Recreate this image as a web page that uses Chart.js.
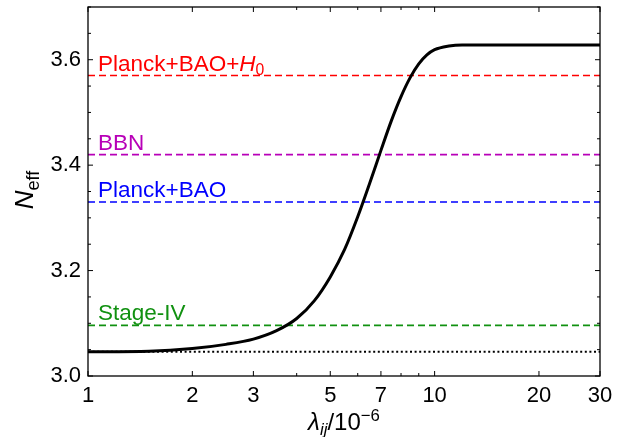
<!DOCTYPE html>
<html>
<head>
<meta charset="utf-8">
<script src="https://cdn.jsdelivr.net/npm/chart.js@4"></script>
<style>
  html, body { margin: 0; padding: 0; background: #fff; }
  #chart { display: block; }
</style>
</head>
<body>
<canvas id="chart" width="626" height="437"></canvas>
<script>
// curve N_eff(lambda)
const lambdaVals = [1, 1.5, 2, 2.5, 3, 3.5, 4, 4.5, 5, 5.5, 6, 6.5, 7, 7.5, 8, 8.5, 9, 9.5, 10, 11, 12, 15, 20, 30];
const neffVals = [3.046, 3.047, 3.052, 3.060, 3.070, 3.086, 3.109, 3.143, 3.188, 3.240, 3.302, 3.366, 3.428, 3.484, 3.530, 3.566, 3.592, 3.609, 3.619, 3.626, 3.628, 3.628, 3.628, 3.628];

// horizontal reference lines
const refNames = ["Planck+BAO+H0", "BBN", "Planck+BAO", "Stage-IV"];
const refValues = [3.57, 3.42, 3.33, 3.096];
const refColors = ["#ff0000", "#b800b8", "#0000ff", "#119111"];
const standardNeff = 3.046;

// axes
const xRange = [1, 30];
const yRange = [3.0, 3.7];
const xTickVals = [1, 2, 3, 4, 5, 6, 7, 8, 9, 10, 20, 30];
const xTickLabels = [1, 2, 3, 5, 7, 10, 20, 30];
const yTickVals = [3.0, 3.05, 3.1, 3.15, 3.2, 3.25, 3.3, 3.35, 3.4, 3.45, 3.5, 3.55, 3.6, 3.65, 3.7];
const yTickLabels = [3.0, 3.2, 3.4, 3.6];

const FONT = "'Liberation Sans', Arial, Helvetica, sans-serif";

// rich text: array of [text, style] with style '', 'i', 'sub', 'isub', 'sup'
function drawRich(ctx, parts, x, y, size) {
  let cx = x;
  for (const [t, st] of parts) {
    const italic = st && st.indexOf("i") === 0;
    const small = st && (st.indexOf("sub") >= 0 || st === "sup");
    const fs = small ? size * 0.7 : size;
    ctx.font = (italic ? "italic " : "") + fs + "px " + FONT;
    let dy = 0;
    if (st && st.indexOf("sub") >= 0) dy = size * 0.22;
    if (st === "sup") dy = -size * 0.38;
    ctx.fillText(t, cx, y + dy);
    cx += ctx.measureText(t).width;
  }
  return cx - x;
}
function richWidth(ctx, parts, size) {
  let w = 0;
  for (const [t, st] of parts) {
    const italic = st && st.indexOf("i") === 0;
    const small = st && (st.indexOf("sub") >= 0 || st === "sup");
    ctx.font = (italic ? "italic " : "") + (small ? size * 0.7 : size) + "px " + FONT;
    w += ctx.measureText(t).width;
  }
  return w;
}
function labelParts(name) {
  if (name.endsWith("H0")) return [[name.slice(0, -2), ""], ["H", "i"], ["0", "sub"]];
  return [[name, ""]];
}

const decorPlugin = {
  id: "decor",
  afterDatasetsDraw(chart) {
    const ctx = chart.ctx;
    const a = chart.chartArea;
    const xs = chart.scales.x, ys = chart.scales.y;
    ctx.save();
    // reference labels
    ctx.textBaseline = "alphabetic";
    ctx.textAlign = "left";
    refNames.forEach((n, i) => {
      ctx.fillStyle = refColors[i];
      drawRich(ctx, labelParts(n), a.left + 10, ys.getPixelForValue(refValues[i]) - 5, 22.5);
    });
    // frame
    ctx.strokeStyle = "#000";
    ctx.lineWidth = 1.3;
    ctx.strokeRect(a.left, a.top, a.right - a.left, a.bottom - a.top);
    // inward ticks
    ctx.lineWidth = 1;
    xTickVals.forEach(v => {
      const px = xs.getPixelForValue(v);
      const len = xTickLabels.includes(v) ? 5 : 3;
      ctx.beginPath();
      ctx.moveTo(px, a.bottom); ctx.lineTo(px, a.bottom - len);
      ctx.moveTo(px, a.top); ctx.lineTo(px, a.top + len);
      ctx.stroke();
    });
    yTickVals.forEach(v => {
      const py = ys.getPixelForValue(v);
      const len = yTickLabels.some(t => Math.abs(t - v) < 1e-6) ? 5 : 3;
      ctx.beginPath();
      ctx.moveTo(a.left, py); ctx.lineTo(a.left + len, py);
      ctx.moveTo(a.right, py); ctx.lineTo(a.right - len, py);
      ctx.stroke();
    });
    // x title: lambda_ij / 10^-6
    ctx.fillStyle = "#000";
    const xt = [["\u03bb", "i"], ["ij", "isub"], ["/10", ""], ["\u22126", "sup"]];
    const w = richWidth(ctx, xt, 24);
    drawRich(ctx, xt, (a.left + a.right) / 2 - w / 2, 430, 24);
    // y title: N_eff
    const yt = [["N", "i"], ["eff", "sub"]];
    const wy = richWidth(ctx, yt, 26);
    ctx.translate(33, 190);
    ctx.rotate(-Math.PI / 2);
    drawRich(ctx, yt, -wy / 2, 0, 26);
    ctx.restore();
  }
};

const datasets = [{
  label: "Neff",
  data: lambdaVals.map((x, i) => ({ x: x, y: neffVals[i] })),
  borderColor: "#000",
  borderWidth: 3,
  pointRadius: 0,
  cubicInterpolationMode: "monotone",
  fill: false
}, {
  label: "standard",
  data: [{ x: xRange[0], y: standardNeff }, { x: xRange[1], y: standardNeff }],
  borderColor: "#000",
  borderWidth: 2,
  borderDash: [2, 2.6],
  pointRadius: 0,
  fill: false
}];
refNames.forEach((n, i) => {
  datasets.push({
    label: n,
    data: [{ x: xRange[0], y: refValues[i] }, { x: xRange[1], y: refValues[i] }],
    borderColor: refColors[i],
    borderWidth: 1.6,
    borderDash: [7, 4],
    pointRadius: 0,
    fill: false
  });
});

new Chart(document.getElementById("chart").getContext("2d"), {
  type: "line",
  data: { datasets: datasets },
  options: {
    responsive: false,
    animation: false,
    layout: { padding: { top: 7, right: 26, left: 0, bottom: 0 } },
    plugins: { legend: { display: false }, tooltip: { enabled: false } },
    scales: {
      x: {
        type: "logarithmic",
        min: xRange[0],
        max: xRange[1],
        afterBuildTicks: s => { s.ticks = xTickVals.map(v => ({ value: v })); },
        afterFit: s => { s.height = 61; s.paddingLeft = 0; s.paddingRight = 0; },
        grid: { display: false, drawTicks: false },
        border: { display: false },
        ticks: {
          autoSkip: false,
          maxRotation: 0,
          padding: 7,
          color: "#000",
          font: { family: FONT, size: 22 },
          callback: v => xTickLabels.includes(v) ? String(v) : ""
        }
      },
      y: {
        type: "linear",
        min: yRange[0],
        max: yRange[1],
        afterBuildTicks: s => { s.ticks = yTickVals.map(v => ({ value: v })); },
        afterFit: s => { s.width = 88; s.paddingTop = 0; s.paddingBottom = 0; },
        grid: { display: false, drawTicks: false },
        border: { display: false },
        ticks: {
          autoSkip: false,
          padding: 7,
          color: "#000",
          font: { family: FONT, size: 22 },
          callback: v => yTickLabels.some(t => Math.abs(t - v) < 1e-6) ? v.toFixed(1) : ""
        }
      }
    }
  },
  plugins: [decorPlugin]
});
</script>
</body>
</html>
